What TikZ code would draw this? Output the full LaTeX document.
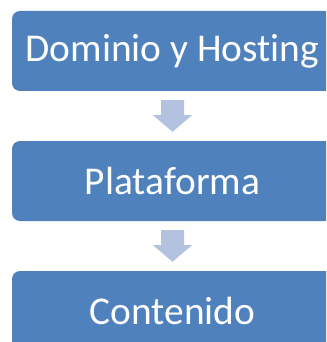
\documentclass[tikz,border=0pt]{standalone}
\usepackage{fontspec}
\setmainfont{Carlito}[Ligatures=NoCommon]
\usetikzlibrary{calc}
\definecolor{boxblue}{HTML}{4F81BD}
\definecolor{arrowblue}{HTML}{B3C3DF}
\tikzset{
  stagebox/.style={rectangle, rounded corners=8pt, fill=boxblue, draw=none,
    minimum width=321pt, minimum height=80pt, inner sep=0pt,
    text=white, font=\fontsize{39.4}{42}\selectfont},
  blockarrow/.style={fill=arrowblue, draw=none}
}
% block arrow pointing down from the bottom of #1 to the top of #2
\newcommand{\stagearrow}[2]{%
  \fill[blockarrow] ($(#1.south)+(-11.5,9)$) -- ++(23,0) -- ++(0,15)
    -- ++(8,0) -- ($(#2.north)+(0,-9)$) -- ($(#1.south)+(-19.5,24)$)
    -- ++(8,0) -- cycle;}
\begin{document}
\begin{tikzpicture}[x=1pt,y=-1pt]
  \fill[white] (0,0) rectangle (326,342);
  \useasboundingbox (0,0) rectangle (326,342);
  \clip (0,0) rectangle (326,342);
  \node[stagebox] (dom) at (172.5,51) {Dominio y Hosting};
  \node[stagebox] (plat) at (172.5,181) {Plataforma};
  \node[stagebox] (cont) at (172.5,311) {Contenido};
  \stagearrow{dom}{plat}
  \stagearrow{plat}{cont}
\end{tikzpicture}
\end{document}
